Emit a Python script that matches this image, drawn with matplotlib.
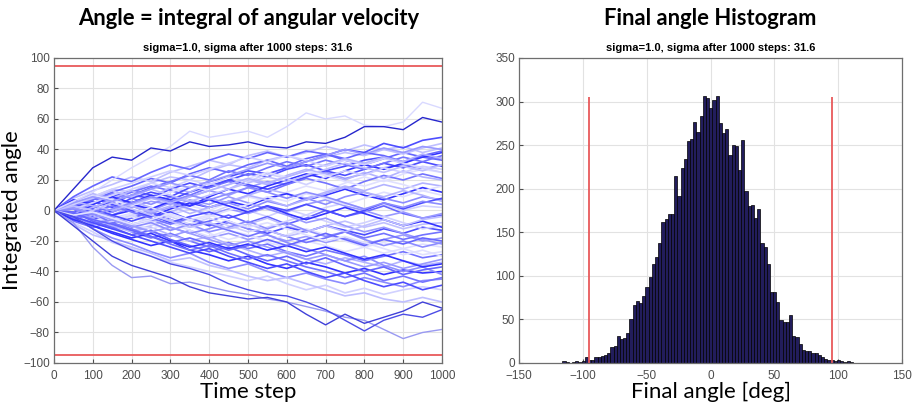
import numpy as np
import matplotlib.pyplot as plt

plt.rcdefaults()

# time axis of the walks (every 50 steps)
steps = [0, 50, 100, 150, 200, 250, 300, 350, 400, 450, 500,
         550, 600, 650, 700, 750, 800, 850, 900, 950, 1000]

# walks (integrated angle at each sample step)
walk_top_dark = [0, 14, 28, 35, 33, 41, 39, 45, 42, 43, 45, 42, 41, 45, 44, 48, 55, 55, 53, 61, 58]
walk_top_light = [0, 6, 12, 20, 28, 35, 42, 52, 48, 50, 52, 48, 55, 64, 60, 62, 56, 55, 58, 71, 67]
walk_low_a = [0, -8, -24, -36, -44, -43, -48, -47, -50, -53, -55, -58, -60, -63, -66, -70, -72, -78, -84, -80, -78]
walk_low_b = [0, -10, -20, -30, -36, -40, -44, -50, -54, -56, -58, -57, -60, -68, -75, -68, -74, -70, -66, -60, -64]
walk_low_c = [0, -4, -12, -20, -26, -30, -35, -38, -42, -48, -52, -55, -56, -60, -65, -72, -79, -72, -68, -70, -65]
walks_mid = [
    [0, 5, 9, 14, 12, 18, 22, 20, 26, 30, 28, 33, 36, 32, 35, 38, 36, 40, 42, 38, 41],
    [0, -3, 2, 6, 10, 8, 14, 18, 15, 20, 24, 22, 27, 30, 26, 29, 33, 35, 31, 36, 34],
    [0, 4, 1, -3, 2, 6, 4, 9, 13, 10, 15, 19, 17, 22, 25, 21, 24, 28, 30, 27, 30],
    [0, -5, -8, -4, -10, -6, -2, 3, 0, 5, 9, 6, 12, 16, 13, 18, 22, 19, 24, 27, 25],
    [0, 6, 10, 7, 12, 16, 13, 10, 15, 19, 16, 12, 17, 21, 18, 14, 19, 23, 20, 24, 21],
    [0, 2, -2, 3, 6, 2, -1, 4, 8, 5, 10, 14, 11, 8, 12, 16, 13, 17, 14, 18, 16],
    [0, -2, -6, -3, 0, -4, 1, 5, 2, 6, 3, 8, 11, 7, 10, 14, 10, 7, 11, 15, 12],
    [0, 3, 7, 11, 8, 4, 9, 6, 2, 5, 1, 6, 3, 8, 4, 9, 12, 8, 5, 9, 7],
    [0, -4, 0, -5, -2, -7, -3, 1, -2, 3, 0, -4, 1, -3, 2, 5, 1, 4, 0, 3, 2],
    [0, 1, -4, -8, -5, -1, -6, -10, -7, -3, -8, -4, -9, -5, 0, -4, -1, 3, -2, -5, -3],
    [0, -6, -3, -9, -13, -10, -6, -11, -8, -12, -9, -5, -10, -14, -10, -7, -11, -8, -12, -9, -8],
    [0, 4, 8, 4, 0, -4, -1, -6, -10, -7, -12, -15, -11, -14, -10, -13, -16, -12, -15, -11, -13],
    [0, -3, -8, -12, -9, -14, -17, -13, -18, -15, -19, -16, -20, -17, -21, -18, -22, -19, -16, -20, -18],
    [0, 2, -3, -7, -4, -9, -13, -10, -15, -19, -16, -21, -24, -20, -23, -27, -24, -21, -25, -22, -24],
    [0, -7, -11, -8, -14, -18, -15, -20, -24, -21, -25, -22, -27, -30, -26, -29, -33, -30, -27, -31, -29],
    [0, -2, -6, -10, -14, -11, -16, -20, -17, -22, -26, -30, -27, -32, -35, -31, -34, -37, -33, -36, -34],
    [0, -5, -10, -15, -19, -23, -20, -26, -29, -33, -30, -35, -38, -34, -37, -41, -38, -42, -39, -41, -40],
    [0, -4, -12, -18, -22, -27, -31, -28, -34, -38, -35, -40, -44, -41, -45, -48, -44, -47, -50, -46, -45],
    [0, -8, -14, -21, -25, -30, -34, -37, -40, -43, -46, -43, -48, -52, -49, -54, -51, -55, -52, -50, -52],
    [0, 3, 7, 12, 16, 21, 18, 24, 28, 25, 30, 33, 29, 34, 37, 33, 30, 34, 38, 35, 33],
    [0, 8, 13, 17, 22, 19, 25, 29, 33, 30, 36, 39, 35, 38, 42, 39, 43, 40, 37, 41, 44],
    [0, -1, 4, 9, 13, 10, 7, 12, 16, 20, 17, 14, 18, 22, 26, 23, 27, 31, 28, 32, 29],
    [0, 5, 2, 7, 4, 0, 5, 1, -3, 1, -2, 2, -1, 4, 7, 3, 0, -4, -1, -5, -2],
    [0, -3, -7, -4, -9, -12, -8, -13, -17, -13, -16, -20, -16, -12, -16, -20, -24, -28, -25, -29, -27],
    [0, -6, -2, -8, -12, -17, -22, -26, -23, -28, -32, -29, -33, -37, -40, -44, -41, -46, -43, -47, -44],
    [0, 6, 11, 8, 13, 9, 15, 12, 18, 14, 20, 17, 23, 27, 24, 20, 25, 21, 26, 22, 20],
    [0, -2, 3, -1, 4, 1, 6, 3, 9, 14, 11, 16, 20, 24, 21, 26, 30, 27, 31, 35, 38],
    [0, 4, 0, -4, -9, -6, -11, -15, -12, -8, -12, -16, -21, -25, -29, -33, -30, -36, -40, -37, -42],
    [0, -3, -10, -7, -3, -8, -4, -9, -5, -10, -14, -11, -7, -3, -7, -11, -8, -4, -8, -12, -10],
    [0, 9, 16, 22, 19, 25, 30, 27, 33, 37, 34, 38, 35, 39, 37, 34, 38, 36, 32, 36, 39],
    [0, -9, -16, -20, -24, -28, -33, -31, -36, -39, -43, -46, -44, -48, -52, -56, -54, -58, -60, -57, -60],
    [0, 2, 6, 2, 8, 12, 9, 15, 19, 22, 26, 24, 28, 32, 36, 40, 38, 44, 41, 46, 48],
    [0, -1, -5, -1, 3, -2, 2, 7, 4, 9, 5, 1, -3, -8, -5, -10, -14, -11, -15, -19, -22],
    [0, 3, -1, -6, -2, 2, -3, -7, -4, 0, 4, 9, 6, 11, 8, 4, 8, 12, 9, 13, 10],
    [0, 3, 8, 5, 10, 15, 19, 23, 20, 26, 23, 28, 32, 29, 33, 30, 27, 31, 35, 32, 36],
    [0, -2, 2, 7, 3, -1, 3, -2, 2, 6, 10, 7, 3, 7, 11, 15, 12, 9, 13, 10, 6],
    [0, 7, 4, 9, 5, 10, 7, 3, 7, 3, -1, 3, -2, -6, -2, 2, -2, -6, -10, -7, -11],
    [0, -4, -9, -6, -11, -8, -13, -9, -14, -11, -7, -12, -8, -13, -17, -14, -19, -23, -20, -24, -21],
    [0, 1, 5, 10, 14, 18, 15, 20, 17, 22, 19, 24, 21, 17, 22, 26, 23, 28, 25, 29, 27],
    [0, -1, -7, -11, -16, -13, -19, -23, -27, -24, -29, -33, -30, -35, -31, -36, -40, -37, -42, -39, -37],
    [0, 4, 8, 13, 9, 14, 10, 6, 10, 14, 18, 22, 19, 23, 27, 31, 28, 25, 29, 26, 30],
    [0, -3, 1, -3, -7, -3, -8, -4, -1, -5, -1, 3, 0, 4, 0, -4, 0, 5, 1, 5, 8],
    [0, 2, -2, -6, -10, -14, -11, -15, -19, -23, -20, -24, -28, -32, -29, -33, -37, -34, -38, -35, -32],
    [0, 5, 10, 7, 3, 8, 12, 16, 13, 17, 21, 25, 22, 26, 23, 19, 16, 20, 17, 13, 16],
    [0, -5, -1, 3, -1, -5, -9, -5, -9, -13, -17, -13, -17, -21, -18, -14, -18, -15, -19, -16, -14],
    [0, 6, 3, 0, 4, 8, 5, 9, 13, 17, 21, 18, 22, 26, 30, 34, 31, 35, 32, 37, 34],
    [0, -6, -10, -14, -18, -15, -20, -24, -21, -25, -22, -26, -23, -27, -24, -28, -32, -29, -33, -37, -35],
    [0, 1, -3, 1, 5, 9, 6, 10, 7, 11, 15, 12, 8, 12, 9, 5, 1, 5, 2, 6, 4],
    [0, 4, 9, 14, 18, 22, 26, 23, 27, 31, 35, 32, 36, 33, 29, 33, 30, 34, 31, 28, 25],
    [0, -2, -6, -9, -13, -17, -21, -18, -22, -26, -23, -19, -23, -19, -15, -19, -23, -19, -22, -18, -20],
    [0, 3, 0, 5, 1, -3, -7, -11, -8, -12, -9, -13, -17, -14, -10, -14, -10, -6, -10, -6, -4],
    [0, -4, -8, -12, -16, -20, -24, -28, -25, -30, -34, -38, -35, -40, -44, -41, -46, -50, -47, -52, -49],
    [0, 5, 9, 6, 10, 14, 18, 15, 19, 23, 27, 31, 28, 32, 36, 40, 37, 41, 38, 42, 40],
    [0, -3, -1, -5, -9, -6, -2, -6, -3, -7, -11, -8, -12, -16, -20, -17, -21, -25, -29, -26, -30],
]

# histogram of final angles: 91 bins of 2.5 deg starting at -116
hist_start = -116
hist_width = 2.5
hist_counts = [2, 1, 0, 1, 2, 1, 2, 7, 3, 4, 7, 7, 8, 9, 11, 18, 19, 31, 28, 29,
               34, 50, 66, 71, 69, 77, 87, 99, 114, 122, 138,
               162, 165, 171, 171, 215, 192, 224, 234, 255, 257, 276, 265, 284, 306,
               304, 293, 302, 306, 275, 264, 269, 239, 250, 249, 222, 256, 197, 180,
               181, 166, 177, 138, 133,
               114, 82, 82, 70, 49, 47, 47, 55, 31, 30, 22, 15, 14, 14, 11, 12, 9, 7,
               5, 3, 4, 2, 3, 2, 1, 2, 1]

limit = 95
red = '#e8595b'
tick_gray = '#4d4d4d'
title_font = 'Lato'
tick_font = 'Liberation Sans'

fig = plt.figure(figsize=(9.13, 4.09), dpi=100)
ax1 = fig.add_axes([0.0591, 0.1125, 0.425, 0.7457])
ax2 = fig.add_axes([0.5685, 0.1125, 0.4195, 0.7457])

# left: random walks
shades = [0.75, 0.3, 0.6, 0.88, 0.45, 0.7, 0.2, 0.55, 0.82, 0.4]
for i, w in enumerate(walks_mid):
    c = shades[i % len(shades)]
    ax1.plot(steps, w, color=(c, c, 1.0), lw=1.2)
ax1.plot(steps, walk_top_light, color=(0.85, 0.85, 1.0), lw=1.0)
ax1.plot(steps, walk_low_a, color=(0.6, 0.6, 0.95), lw=1.0)
ax1.plot(steps, walk_low_b, color=(0.25, 0.25, 0.85), lw=1.0)
ax1.plot(steps, walk_low_c, color=(0.3, 0.3, 0.9), lw=1.0)
ax1.plot(steps, walk_top_dark, color=(0.15, 0.15, 0.8), lw=1.0)
ax1.axhline(limit, color=red, lw=1.3)
ax1.axhline(-limit, color=red, lw=1.3)
ax1.set_xlim(0, 1000)
ax1.set_ylim(-100, 100)
ax1.set_xticks(np.arange(0, 1001, 100))
ax1.set_yticks(np.arange(-100, 101, 20))
ax1.set_xlabel('Time step', fontsize=16, family=title_font, labelpad=0)
ax1.set_ylabel('Integrated angle', fontsize=16, family=title_font)
ax1.yaxis.set_label_coords(-0.083, 0.5)
ax1.set_title('sigma=1.0, sigma after 1000 steps: 31.6', fontsize=8,
              fontweight='bold', family=tick_font, pad=5)
fig.text(0.272, 0.955, 'Angle = integral of angular velocity', ha='center', va='center',
         fontsize=15.8, fontweight='bold', family=title_font)

# right: histogram
edges = [hist_start + hist_width * i for i in range(len(hist_counts) + 1)]
ax2.hist(edges[:-1], bins=edges, weights=hist_counts, color='#221d5c',
         edgecolor='black', linewidth=0.5)
ax2.vlines([-limit, limit], 0, 305, color=red, lw=1.3)
ax2.set_xlim(-150, 150)
ax2.set_ylim(0, 350)
ax2.set_xticks(np.arange(-150, 151, 50))
ax2.set_yticks(np.arange(0, 351, 50))
ax2.set_xlabel('Final angle [deg]', fontsize=16, family=title_font, labelpad=0)
ax2.set_title('sigma=1.0, sigma after 1000 steps: 31.6', fontsize=8,
              fontweight='bold', family=tick_font, pad=5)
fig.text(0.778, 0.955, 'Final angle Histogram', ha='center', va='center',
         fontsize=15.8, fontweight='bold', family=title_font)

for ax in (ax1, ax2):
    ax.grid(True, color='#e2e2e2', lw=0.8)
    ax.set_axisbelow(True)
    ax.tick_params(direction='in', length=3, colors=tick_gray, labelsize=8.5,
                   top=False, right=False, pad=3)
    ax.tick_params(axis='x', pad=5)
    for lab in ax.get_xticklabels() + ax.get_yticklabels():
        lab.set_family(tick_font)
    for s in ax.spines.values():
        s.set_color('#6e6e6e')
        s.set_linewidth(0.9)

fig.savefig('out.png', dpi=100)
